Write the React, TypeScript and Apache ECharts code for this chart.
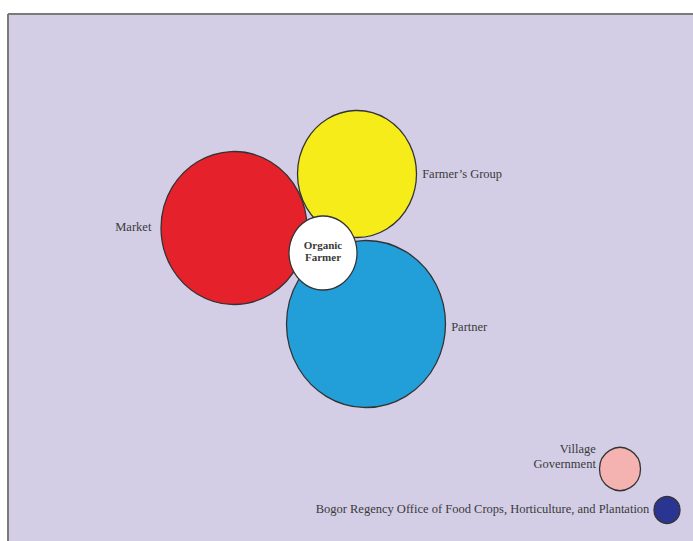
import React, { useEffect, useRef } from "react";
import * as echarts from "echarts";

const names = [
  "Market",
  "Farmer’s Group",
  "Partner",
  "Organic\nFarmer",
  "Village\nGovernment",
  "Bogor Regency Office of Food Crops, Horticulture, and Plantation",
];
const xs = [234, 357, 366, 323, 620, 667];
const ys = [228, 174, 324, 253, 469, 510];
const widths = [146, 119, 159, 68, 41, 26];
const heights = [153, 127, 167, 74, 43, 27];
const colors = ["#e5212b", "#f6ec1a", "#229fd9", "#ffffff", "#f4b3b1", "#2a3591"];
const labelPositions = ["left", "right", "right", "inside", "left", "left"];
const labelDistances = [9, 5, 5, 0, 3, 4];
const labelOffsets = [[0, -1], [0, 0], [0, 3], [0, -2], [0, -13], [0, -1]];

export default function App() {
  const ref = useRef<HTMLDivElement>(null);
  useEffect(() => {
    if (!ref.current) return;
    const chart = echarts.init(ref.current, undefined, { renderer: "svg" });
    const data = names.map((n, i) => ({
      name: n,
      value: [xs[i], ys[i]],
      symbolSize: [widths[i], heights[i]],
      itemStyle: { color: colors[i] },
      label: {
        show: true,
        position: labelPositions[i],
        distance: labelDistances[i],
        offset: labelOffsets[i],
        formatter: "{b}",
        fontFamily: "Liberation Serif",
        fontSize: i === 3 ? 11 : 12.5,
        fontWeight: i === 3 ? "bold" : "normal",
        lineHeight: i === 3 ? 12 : 15,
        color: "#3a3a3a",
        align: i === 3 ? "center" : undefined,
      },
    }));
    chart.setOption({
      animation: false,
      backgroundColor: "#ffffff",
      grid: { left: 0, right: 0, top: 0, bottom: 0 },
      xAxis: { type: "value", min: 0, max: 693, show: false },
      yAxis: { type: "value", min: 0, max: 541, inverse: true, show: false },
      graphic: [
        {
          type: "rect",
          shape: { x: 8, y: 14, width: 700, height: 540 },
          style: { fill: "#d3cee6" },
          z: -10,
        },
        {
          type: "line",
          shape: { x1: 8, y1: 14, x2: 693, y2: 14 },
          style: { stroke: "#7a7a7a", lineWidth: 2 },
          z: -9,
        },
        {
          type: "line",
          shape: { x1: 8, y1: 14, x2: 8, y2: 541 },
          style: { stroke: "#7a7a7a", lineWidth: 2 },
          z: -9,
        },
      ],
      series: [
        {
          type: "scatter",
          symbol: "circle",
          data,
          itemStyle: { borderColor: "#333333", borderWidth: 1.3, opacity: 1 },
          emphasis: { disabled: true },
        },
      ],
    });
    return () => chart.dispose();
  }, []);
  return (
    <div
      ref={ref}
      style={{ position: "fixed", left: 0, top: 0, width: 693, height: 541 }}
    />
  );
}
